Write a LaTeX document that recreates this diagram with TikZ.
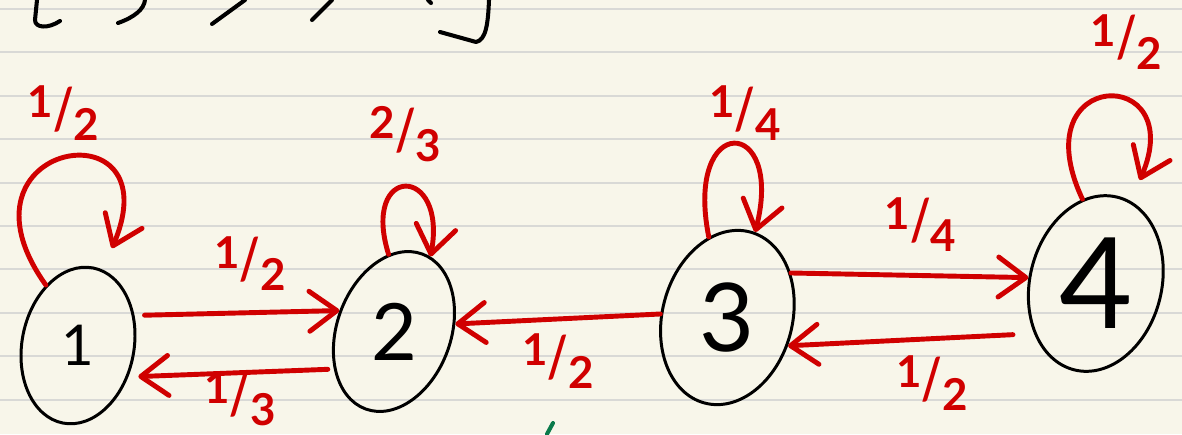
\documentclass[tikz,border=0pt]{standalone}
\usepackage{fontspec}
\setmainfont{Lato}
\usepackage{xcolor}
\usepackage{graphicx}
\usepackage{tikz}
\usetikzlibrary{shapes.geometric, arrows.meta, positioning}

\definecolor{paper}{HTML}{F8F6EA}
\definecolor{penred}{HTML}{D00000}
\definecolor{ruleGray}{HTML}{D9D9D6}
\definecolor{tickgreen}{HTML}{0B7A4B}

\newcommand{\slfrac}[2]{\raisebox{0.5ex}{#1}\scalebox{1}[1.3]{/}\raisebox{-0.5ex}{#2}}

\begin{document}
\begin{tikzpicture}[
  x=0.02cm, y=0.02cm,
  state/.style={ellipse, draw=black, line width=1.7pt, inner sep=0pt},
  link/.style={-{Straight Barb[length=0.55cm, width=0.8cm, round]}, draw=penred, line width=2.8pt, line cap=round},
  prob/.style={text=penred, inner sep=0pt, font=\bfseries\fontsize{25}{25}\selectfont},
  rule/.style={draw=ruleGray, line width=1.1pt},
  ink/.style={line width=2.3pt, line cap=round, line join=round}
]
% Paper
\useasboundingbox (0,0) rectangle (1182,434);
\fill[paper] (0,0) rectangle (1182,434);
\foreach \k in {0,...,9}
  \draw[rule] (0,{425-43.4*\k}) -- (1182,{425-43.4*\k});

% Strokes cut off at the top edge
\draw[ink] (37,434) -- (35,414) .. controls (35,406) and (48,405) .. (60,413);
\draw[ink] (145,434) .. controls (144,425) and (135,417) .. (118,411);
\draw[ink] (245,434) -- (212,410);
\draw[ink] (332,434) -- (312,414);
\draw[ink] (428,434) -- (431,431);
\draw[ink] (489,434) .. controls (488,410) and (486,394) .. (476,392) -- (440,402);
\draw[ink, draw=tickgreen] (553,11) -- (547,0);

% States
\node[state, minimum width=2.24cm, minimum height=3.16cm, rotate=-11, font=\fontsize{32}{32}\selectfont] (s1) at (78,88.5) {\rotatebox{11}{1}};
\node[state, minimum width=2.28cm, minimum height=3.30cm, right=6.32cm of s1.center, anchor=center, yshift=0.28cm, rotate=-20, font=\fontsize{45}{45}\selectfont] (s2) {\rotatebox{20}{2}};
\node[state, minimum width=2.60cm, minimum height=3.54cm, right=6.67cm of s2.center, anchor=center, yshift=0.28cm, rotate=-15, font=\fontsize{54}{54}\selectfont] (s3) {\rotatebox{15}{3}};
\node[state, minimum width=2.56cm, minimum height=3.56cm, right=7.37cm of s3.center, anchor=center, yshift=0.68cm, rotate=-14, font=\fontsize{72}{72}\selectfont] (s4) {\rotatebox{14}{4}};

% Self loops
\draw[link] (s1.129) .. controls +(-103,144) and +(62,146) .. ([shift={(8,22)}]s1.82) node[prob, pos=0.5, above=0.3cm] {\slfrac12};
\draw[link] (s2.114) .. controls +(-28,90) and +(17,93) .. (s2.84) node[prob, pos=0.5, above=0.45cm] {\slfrac23};
\draw[link] (s3.118) .. controls +(-25,125) and +(30,117) .. (s3.87) node[prob, pos=0.5, above=0.02cm, xshift=0.22cm] {\slfrac14};
\draw[link] (s4.113) .. controls +(-62,132) and +(50,116) .. ([shift={(9,21)}]s4.81) node[prob, pos=0.5, above=0.5cm, xshift=0.4cm] {\slfrac12};

% Transitions
\draw[link, shorten <=0.2cm] (s1.39) -- node[prob, above=0.4cm, xshift=0.26cm] {\slfrac12} (s2.179);
\draw[link, shorten <=0.12cm, shorten >=0.2cm] (s2.232) -- node[prob, below=-0.08cm, xshift=0.18cm] {\slfrac13} (s1.339);
\draw[link] (s3.192) -- node[prob, below=0.25cm] {\slfrac12} (s2.27);
\draw[link] (s3.50) -- node[prob, above=0.42cm, xshift=0.22cm] {\slfrac14} (s4.189);
\draw[link, shorten <=0.42cm] (s4.233) -- node[prob, below=0.28cm, xshift=0.42cm] {\slfrac12} (s3.350);
\end{tikzpicture}
\end{document}
